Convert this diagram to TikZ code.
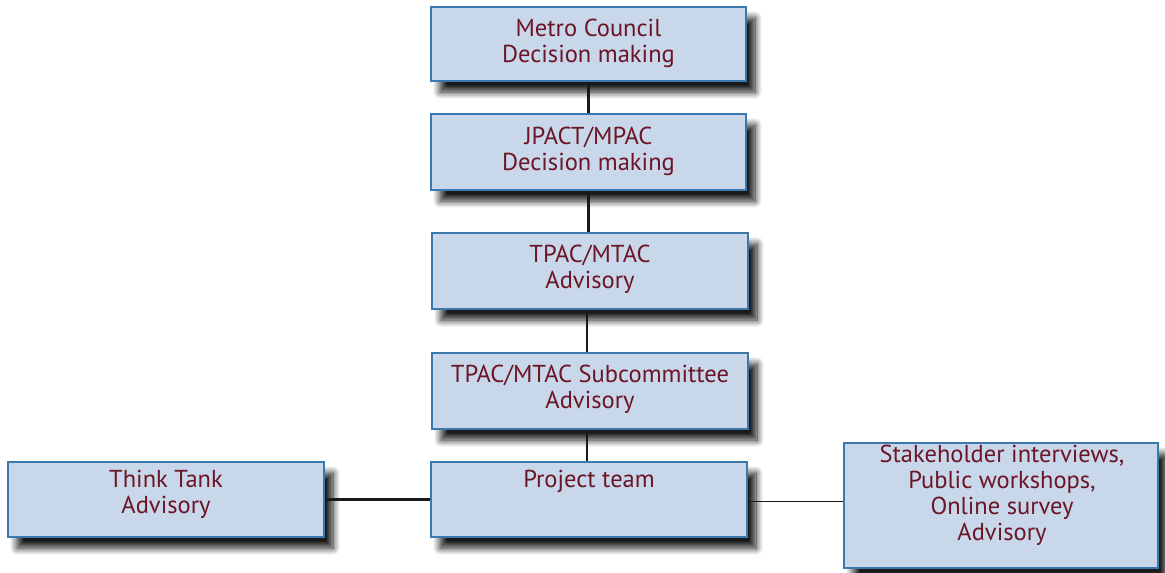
\documentclass[tikz,border=0pt]{standalone}
\usepackage{fontspec}
\setmainfont{PT Sans}
\usetikzlibrary{shadows.blur}
\definecolor{boxfill}{HTML}{C8D7E9}
\definecolor{boxedge}{HTML}{3A78AE}
\definecolor{boxtext}{HTML}{6B1526}
\tikzset{
  orgbox/.style={draw=boxedge, line width=1.8pt, fill=boxfill, inner sep=0pt,
    blur shadow={shadow xshift=9pt, shadow yshift=-11pt, shadow blur radius=7pt,
      shadow opacity=90, shadow blur steps=12}},
  orgtext/.style={text=boxtext, align=center, font=\fontsize{24.5}{26}\selectfont, inner sep=0pt},
  link/.style={draw=black!90, line width=2.2pt}
}
\begin{document}
\begin{tikzpicture}[x=1pt,y=-1pt]
\useasboundingbox (0,0) rectangle (1165,573);
% boxes of the chain
\node[orgbox, minimum width=315pt, minimum height=74pt] (mc) at (588.5,44) {};
\node[orgbox, minimum width=315pt, minimum height=76pt] (jp) at (588.5,152) {};
\node[orgbox, minimum width=316pt, minimum height=76pt] (tp) at (590,271) {};
\node[orgbox, minimum width=316pt, minimum height=76pt] (sc) at (590,391) {};
\node[orgbox, minimum width=316pt, minimum height=75pt] (pt) at (589,499.5) {};
\node[orgbox, minimum width=316pt, minimum height=75pt] (tt) at (166,499.5) {};
\node[orgbox, minimum width=314pt, minimum height=125pt] (sh) at (1001,505.5) {};
% labels
\node[orgtext] (mct) at ([yshift=1pt]mc.center) {Metro Council\\Decision making};
\node[orgtext] (jpt) at ([yshift=1pt]jp.center) {JPACT/MPAC\\Decision making};
\node[orgtext] (tpt) at ([yshift=2pt]tp.center) {TPAC/MTAC\\Advisory};
\node[orgtext] (sct) at ([yshift=2pt]sc.center) {TPAC/MTAC Subcommittee\\Advisory};
\node[orgtext] (ptt) at (589,481) {Project team};
\node[orgtext] (ttt) at (166,494) {Think Tank\\Advisory};
\node[orgtext] (sht) at (1002,495) {Stakeholder interviews,\\Public workshops,\\Online survey\\Advisory};
% connectors
\draw[link] (mc.south) -- (mc.south |- jp.north);
\draw[link] (jp.south) -- (jp.south |- tp.north);
\draw[link] ([xshift=-3pt]tp.south) -- ([xshift=-3pt]tp.south |- sc.north);
\draw[link] ([xshift=-3pt]sc.south) -- ([xshift=-3pt]sc.south |- pt.north);
\draw[link] (tt.east) -- (pt.west);
\draw[link, line width=1.4pt] ([yshift=-2pt]pt.east) -- ([yshift=-2pt]pt.east -| sh.west);
\end{tikzpicture}
\end{document}
